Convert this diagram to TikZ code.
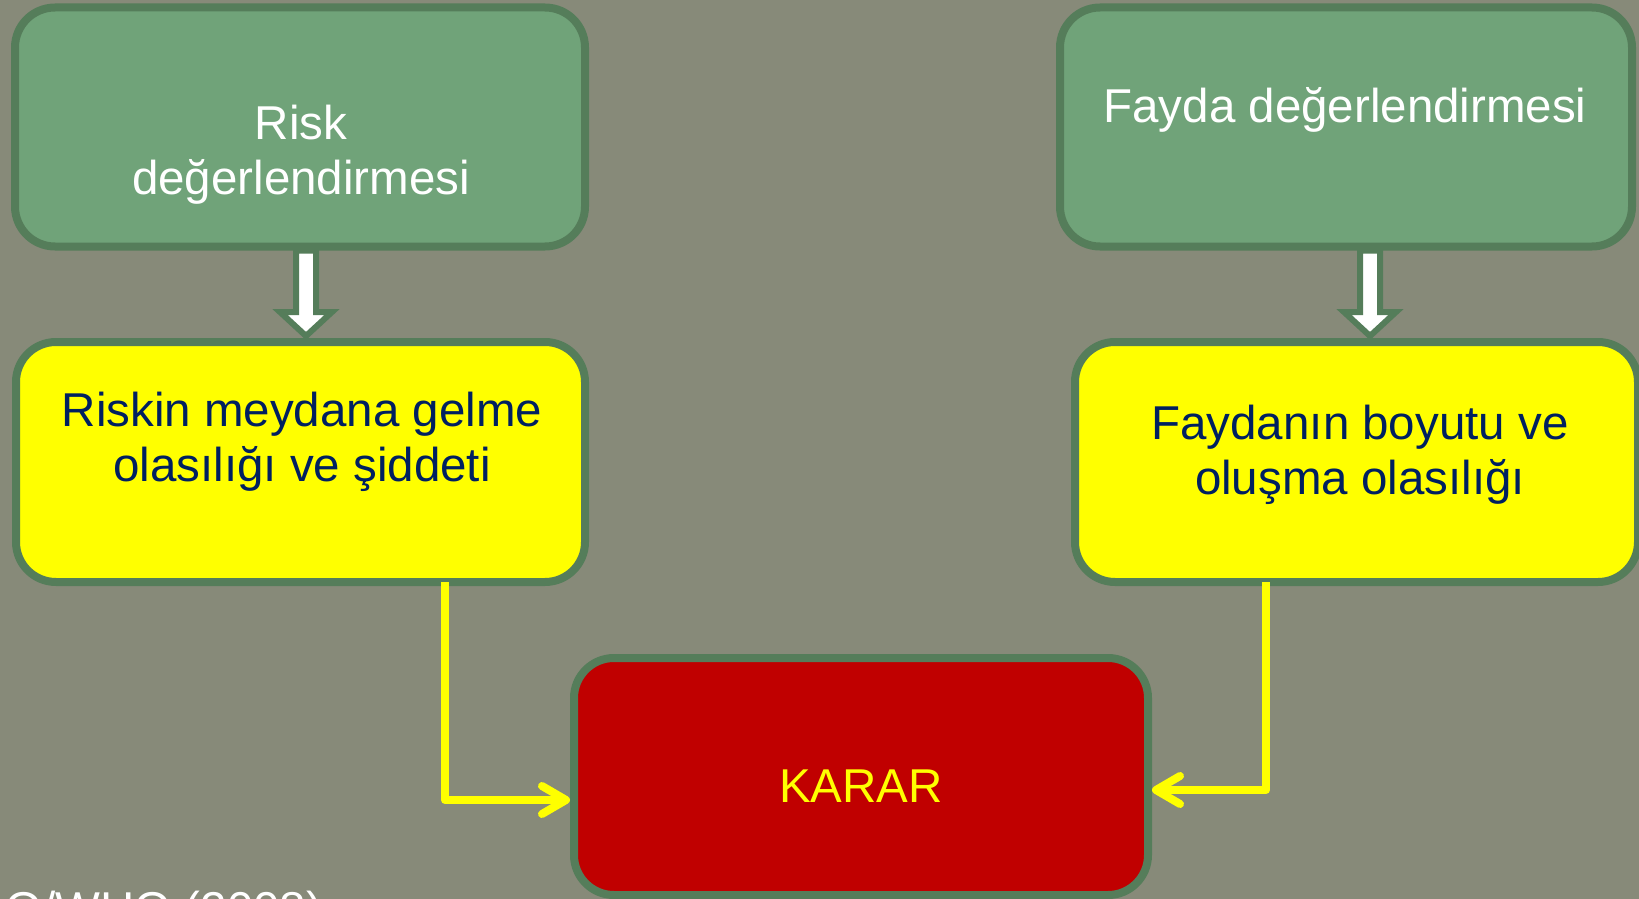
\documentclass[tikz,border=0pt]{standalone}
\usepackage{fontspec}
\setmainfont{Liberation Sans}
\usetikzlibrary{arrows.meta, positioning, calc}
\definecolor{slidebg}{RGB}{135, 138, 121}
\definecolor{boxgreen}{RGB}{112, 163, 121}
\definecolor{edgegreen}{RGB}{85, 125, 90}
\definecolor{textnavy}{RGB}{0, 32, 96}
\definecolor{kararred}{RGB}{192, 0, 0}
\definecolor{boxyellow}{RGB}{255, 255, 0}

\begin{document}
\begin{tikzpicture}[x=0.5pt, y=-0.5pt,
  box/.style={draw=edgegreen, line width=4pt, rounded corners=20pt, inner sep=0pt},
  boxtext/.style={font=\fontsize{23.75pt}{27.5pt}\selectfont, align=center, inner sep=0pt},
  blockarrow/.style={draw=edgegreen, fill=white, line width=3pt},
  feed/.style={draw=boxyellow, line width=4pt, line join=round,
    -{Straight Barb[length=12pt, width=14pt, round]}}]
  \clip (0, 0) rectangle (1639, 899);
  \fill[slidebg] (0, 0) rectangle (1639, 899);

  % Boxes
  \node[box, fill=boxgreen, minimum width=285pt, minimum height=119.5pt] (risk) at (300, 127) {};
  \node[box, fill=boxgreen, minimum width=286pt, minimum height=119.5pt] (fayda) at (1346, 127) {};
  \node[box, fill=boxyellow, minimum width=284.5pt, minimum height=120pt] (riskprob) at (300.5, 462) {};
  \node[box, fill=boxyellow, minimum width=281.5pt, minimum height=120pt] (faydaprob) at (1356.5, 462) {};
  \node[box, fill=kararred, minimum width=287pt, minimum height=118.5pt] (karar) at (861, 776.5) {};

  % Texts
  \node[boxtext, white, anchor=north] (risktxt) at (301, 105) {Risk\\değerlendirmesi};
  \node[boxtext, white, anchor=base] (faydatxt) at (1345, 123) {Fayda değerlendirmesi};
  \node[boxtext, textnavy, anchor=north] (riskprobtxt) at (302, 392) {Riskin meydana gelme\\olasılığı ve şiddeti};
  \node[boxtext, textnavy, anchor=north] (faydaprobtxt) at (1360, 405) {Faydanın boyutu ve\\oluşma olasılığı};
  \node[boxtext, boxyellow, anchor=base] (karartxt) at (861, 802) {KARAR};
  \node[boxtext, white, anchor=base west] (source) at (5, 925) {O/WHO (2008)};

  % Block arrows
  \coordinate (arrA1) at ($(risk.south)+(6, 0)$);
  \coordinate (arrA2) at ($(riskprob.north)+(5.5, -2)$);
  \draw[blockarrow] ($(arrA1)+(-10, 0)$) -- ($(arrA2)+(-10, -24)$) -- ($(arrA2)+(-26, -24)$)
    -- (arrA2) -- ($(arrA2)+(26, -24)$) -- ($(arrA2)+(10, -24)$) -- ($(arrA1)+(10, 0)$) -- cycle;
  \coordinate (arrB1) at ($(fayda.south)+(24, 0)$);
  \coordinate (arrB2) at ($(faydaprob.north)+(13.5, -2)$);
  \draw[blockarrow] ($(arrB1)+(-10, 0)$) -- ($(arrB2)+(-10, -24)$) -- ($(arrB2)+(-26, -24)$)
    -- (arrB2) -- ($(arrB2)+(26, -24)$) -- ($(arrB2)+(10, -24)$) -- ($(arrB1)+(10, 0)$) -- cycle;

  % Connectors to the decision
  \draw[feed] ($(riskprob.south)+(144.5, -4)$) |- ($(karar.west)+(0, 23.5)$);
  \draw[feed] ($(faydaprob.south)+(-90.5, -4)$) |- ($(karar.east)+(0, 13.5)$);
\end{tikzpicture}
\end{document}
